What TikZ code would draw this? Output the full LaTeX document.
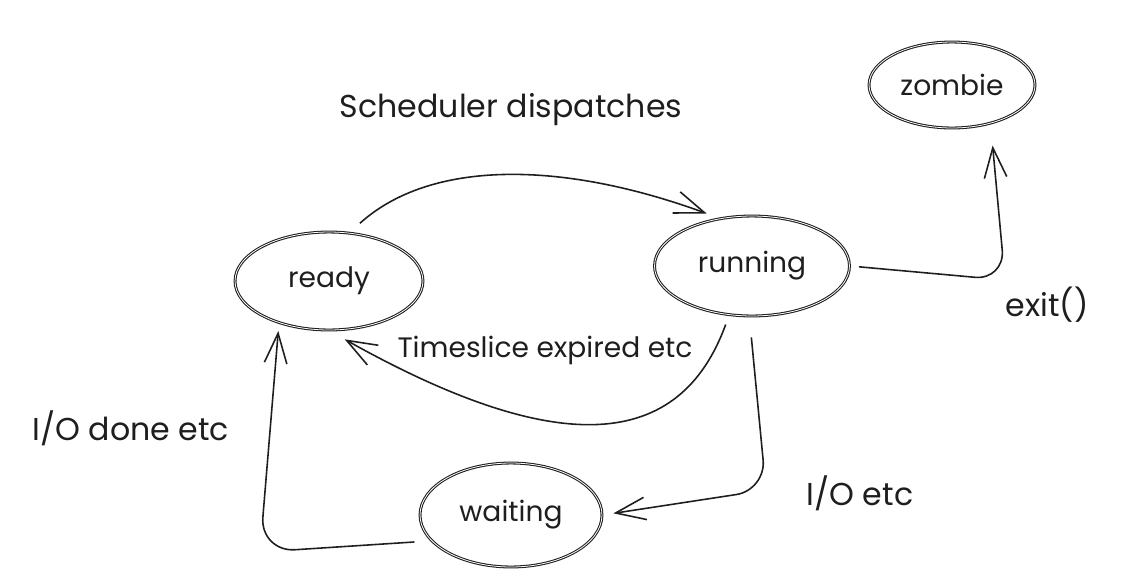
\documentclass[tikz,border=0pt]{standalone}
\usepackage{fontspec}
\setmainfont{Poppins}
\usetikzlibrary{shapes.geometric, arrows.meta, calc}
\definecolor{ink}{HTML}{1E1E1E}
\tikzset{
  state/.style = {ellipse, draw=ink, line width=0.6pt, double, double distance=0.45pt,
                  inner sep=0pt, font=\fontsize{16}{19}\selectfont, text=ink},
  flow/.style  = {-{Straight Barb[length=6mm, width=4.5mm]}, draw=ink, line width=0.9pt},
  note/.style  = {font=\fontsize{18}{21}\selectfont, text=ink},
}
\begin{document}
\begin{tikzpicture}[x=0.02cm, y=-0.02cm]
  \useasboundingbox (0,0) rectangle (1127,582);
  % states
  \node[state, minimum width=3.76cm, minimum height=1.96cm] (ready) at (329,281) {ready};
  \node[state, minimum width=3.9cm, minimum height=2cm] (running) at (752,266) {running};
  \node[state, minimum width=3.32cm, minimum height=1.72cm] (zombie) at (952,85) {zombie};
  \node[state, minimum width=3.64cm, minimum height=2.08cm] (waiting) at (511,515) {waiting};
  % labels
  \node[note] (sched) at (511,110) {Scheduler dispatches};
  \node[note, font=\fontsize{16}{19}\selectfont] (slice) at (545,350) {Timeslice expired etc};
  \node[note] (exit) at (1047,305) {exit()};
  \node[note] (iodone) at (131,428) {I/O done etc};
  \node[note] (io) at (860,493) {I/O etc};
  % transitions
  \draw[flow, shorten <=0.28cm, shorten >=0.28cm] (ready.67) .. controls (430,160) and (560,160) .. (running.124);
  \draw[flow, rounded corners=0.6cm, shorten <=0.18cm, shorten >=0.44cm] (running.east) -- (1005,280) -- (zombie.-45);
  \draw[flow, shorten <=0.2cm, shorten >=0.36cm] (running.-115) .. controls (680,450) and (560,460) .. (ready.-90);
  \draw[flow, rounded corners=0.6cm, shorten <=0.42cm, shorten >=0.22cm] (running.-93) -- (766,490) -- (waiting.0);
  \draw[flow, rounded corners=0.7cm, shorten <=0.34cm, shorten >=0.16cm] (waiting.-162) -- (260,552) -- (ready.-140);
\end{tikzpicture}
\end{document}
